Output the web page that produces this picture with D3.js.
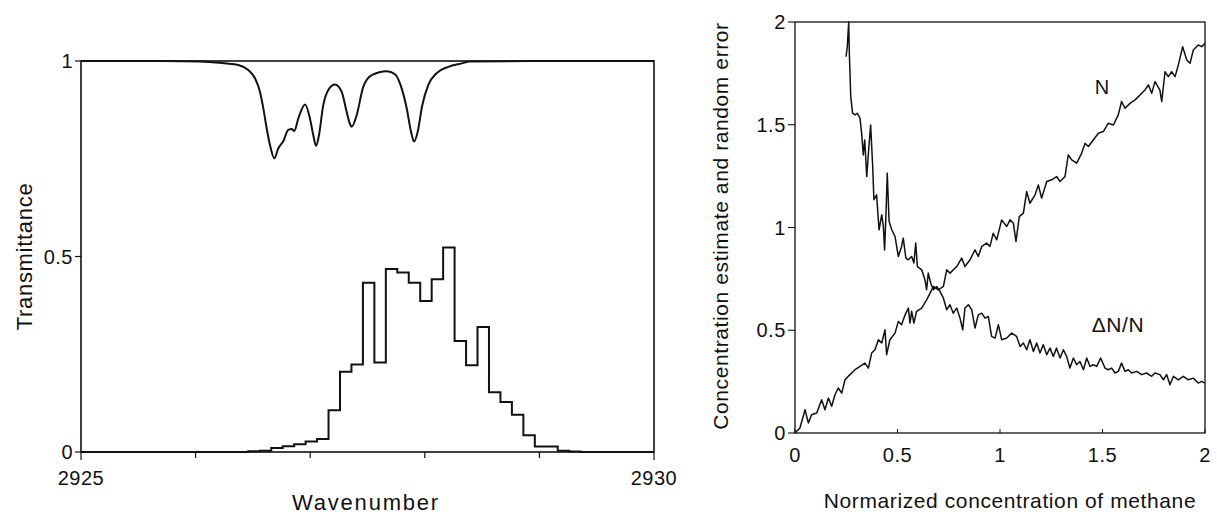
<!DOCTYPE html>
<html>
  <head>
    <meta charset="utf-8">
    <title>methane spectrum and concentration error</title>
    <script src="https://d3js.org/d3.v7.min.js"></script>
    <style>
      body { margin: 0; background: #fff; }
      svg text { font-family: "Liberation Sans", Arial, Helvetica, sans-serif; fill: #111; }
    </style>
  </head>
  <body>
  <svg id="chart" width="1217" height="522"></svg>
  <script>
    // ---- left panel data ----
    // absorption curve: [wavenumber, transmittance]
    var absorbWave = [2925.0, 2925.6, 2926.038, 2926.257, 2926.373, 2926.46, 2926.518, 2926.562, 2926.591,
      2926.62, 2926.649, 2926.687, 2926.722, 2926.765, 2926.809, 2926.839, 2926.861, 2926.896, 2926.955,
      2926.998, 2927.027, 2927.051, 2927.077, 2927.114, 2927.158, 2927.216, 2927.275, 2927.318, 2927.347,
      2927.362, 2927.406, 2927.463, 2927.537, 2927.668, 2927.74, 2927.798, 2927.842, 2927.88, 2927.906,
      2927.938, 2927.978, 2928.031, 2928.104, 2928.205, 2928.322, 2928.394, 2928.918, 2930.0];
    var absorbT = [1.0, 1.0, 0.999, 0.994, 0.99, 0.977, 0.956, 0.921, 0.879,
      0.828, 0.785, 0.751, 0.777, 0.795, 0.824, 0.826, 0.821, 0.853, 0.889,
      0.853, 0.81, 0.783, 0.811, 0.887, 0.926, 0.94, 0.921, 0.87, 0.839,
      0.832, 0.862, 0.934, 0.964, 0.974, 0.966, 0.93, 0.879, 0.819, 0.794,
      0.819, 0.887, 0.939, 0.969, 0.985, 0.994, 0.999, 1.0, 1.0];

    // histogram: bin left edges and levels
    var binEdges = [2925.0, 2926.46, 2926.56, 2926.66, 2926.76, 2926.86, 2926.96, 2927.06, 2927.16, 2927.26,
      2927.36, 2927.46, 2927.56, 2927.66, 2927.76, 2927.86, 2927.96, 2928.06, 2928.16, 2928.26,
      2928.36, 2928.46, 2928.56, 2928.66, 2928.76, 2928.86, 2928.96, 2929.06, 2929.16, 2929.26, 2929.36];
    var binValues = [0.0, 0.002, 0.003, 0.010, 0.015, 0.020, 0.027, 0.033, 0.107, 0.205,
      0.224, 0.433, 0.229, 0.468, 0.459, 0.433, 0.386, 0.442, 0.523, 0.284,
      0.222, 0.320, 0.153, 0.128, 0.095, 0.043, 0.014, 0.014, 0.003, 0.001, 0.0];

    var leftXTicks = [2925, 2926, 2927, 2928, 2929, 2930];
    var leftXLabels = [2925, 2930];
    var leftYTicks = [0, 0.5, 1];

    // ---- right panel data ----
    var nX = [0, 0.024, 0.049, 0.065, 0.081, 0.106, 0.13, 0.146, 0.163, 0.179, 0.195, 0.211, 0.228, 0.244,
      0.268, 0.293, 0.317, 0.341, 0.358, 0.374, 0.39, 0.407, 0.423, 0.439, 0.447, 0.463, 0.488, 0.504,
      0.52, 0.537, 0.553, 0.561, 0.569, 0.58, 0.593, 0.618, 0.642, 0.659, 0.675, 0.699, 0.724, 0.74,
      0.756, 0.789, 0.813, 0.829, 0.854, 0.878, 0.894, 0.911, 0.935, 0.951, 0.967, 0.984, 1.008, 1.033,
      1.049, 1.065, 1.078, 1.094, 1.114, 1.13, 1.146, 1.171, 1.187, 1.203, 1.228, 1.252, 1.276, 1.293,
      1.317, 1.333, 1.35, 1.374, 1.398, 1.415, 1.431, 1.455, 1.48, 1.504, 1.528, 1.553, 1.577, 1.593,
      1.61, 1.634, 1.659, 1.683, 1.707, 1.724, 1.74, 1.756, 1.78, 1.789, 1.805, 1.821, 1.837, 1.854,
      1.87, 1.891, 1.911, 1.927, 1.943, 1.967, 1.984, 2.0];
    var nY = [0, 0.024, 0.113, 0.049, 0.089, 0.097, 0.162, 0.113, 0.17, 0.13, 0.186, 0.219, 0.194, 0.259,
      0.284, 0.308, 0.324, 0.34, 0.316, 0.389, 0.405, 0.454, 0.438, 0.502, 0.381, 0.454, 0.486, 0.543,
      0.527, 0.575, 0.608, 0.535, 0.592, 0.535, 0.592, 0.608, 0.648, 0.681, 0.713, 0.697, 0.713, 0.794,
      0.778, 0.81, 0.851, 0.81, 0.843, 0.891, 0.859, 0.908, 0.924, 0.908, 0.972, 0.94, 1.037, 1.005,
      1.037, 1.021, 0.932, 1.053, 1.07, 1.175, 1.118, 1.159, 1.207, 1.143, 1.224, 1.232, 1.248, 1.224,
      1.248, 1.353, 1.329, 1.313, 1.361, 1.41, 1.394, 1.426, 1.459, 1.467, 1.507, 1.499, 1.548, 1.613,
      1.58, 1.604, 1.621, 1.645, 1.669, 1.694, 1.653, 1.71, 1.669, 1.613, 1.758, 1.734, 1.758, 1.734,
      1.791, 1.88, 1.815, 1.799, 1.864, 1.888, 1.88, 1.896];

    var errX = [0.249, 0.255, 0.262, 0.265, 0.272, 0.281, 0.293, 0.304, 0.317, 0.325, 0.333, 0.34, 0.35,
      0.358, 0.369, 0.379, 0.385, 0.398, 0.41, 0.423, 0.431, 0.437, 0.444, 0.45, 0.459, 0.472, 0.488,
      0.504, 0.52, 0.528, 0.541, 0.553, 0.569, 0.58, 0.589, 0.597, 0.618, 0.634, 0.642, 0.65, 0.662,
      0.675, 0.691, 0.707, 0.724, 0.74, 0.756, 0.772, 0.789, 0.805, 0.818, 0.829, 0.846, 0.862, 0.878,
      0.894, 0.911, 0.927, 0.943, 0.959, 0.976, 0.992, 1.008, 1.033, 1.057, 1.081, 1.098, 1.114, 1.13,
      1.146, 1.163, 1.179, 1.195, 1.211, 1.228, 1.244, 1.26, 1.276, 1.293, 1.309, 1.325, 1.341, 1.358,
      1.374, 1.39, 1.407, 1.423, 1.439, 1.455, 1.472, 1.491, 1.512, 1.528, 1.545, 1.561, 1.577, 1.593,
      1.61, 1.626, 1.642, 1.667, 1.691, 1.715, 1.74, 1.756, 1.78, 1.797, 1.813, 1.829, 1.846, 1.87,
      1.894, 1.919, 1.943, 1.967, 1.984, 2.0];
    var errY = [1.831, 1.88, 2.0, 1.848, 1.637, 1.556, 1.548, 1.556, 1.532, 1.459, 1.353, 1.426, 1.248,
      1.361, 1.499, 1.297, 1.135, 1.159, 0.989, 1.062, 1.005, 0.891, 1.07, 1.264, 1.029, 0.989, 0.956,
      0.859, 0.908, 0.948, 0.851, 0.843, 0.859, 0.827, 0.924, 0.81, 0.794, 0.746, 0.697, 0.778, 0.729,
      0.697, 0.713, 0.689, 0.656, 0.6, 0.624, 0.583, 0.608, 0.559, 0.502, 0.608, 0.624, 0.6, 0.511,
      0.575, 0.583, 0.559, 0.567, 0.47, 0.462, 0.527, 0.454, 0.462, 0.486, 0.47, 0.421, 0.438, 0.405,
      0.454, 0.397, 0.438, 0.389, 0.43, 0.381, 0.413, 0.373, 0.413, 0.365, 0.405, 0.373, 0.316, 0.365,
      0.332, 0.348, 0.308, 0.365, 0.324, 0.332, 0.324, 0.365, 0.316, 0.308, 0.316, 0.292, 0.3, 0.34,
      0.3, 0.308, 0.292, 0.3, 0.284, 0.292, 0.276, 0.292, 0.284, 0.259, 0.284, 0.235, 0.276, 0.259,
      0.276, 0.259, 0.267, 0.243, 0.251, 0.243];

    var rightTicks = [0, 0.5, 1, 1.5, 2];

    var svg = d3.select("#chart");

    // ================= left panel =================
    var L = { left: 81, right: 654, top: 61, bottom: 452 };
    var x1 = d3.scaleLinear().domain([2925, 2930]).range([L.left, L.right]);
    var y1 = d3.scaleLinear().domain([0, 1]).range([L.bottom, L.top]);

    var g1 = svg.append("g");

    // frame
    g1.append("rect")
      .attr("x", L.left).attr("y", L.top)
      .attr("width", L.right - L.left).attr("height", L.bottom - L.top)
      .attr("fill", "none").attr("stroke", "#111").attr("stroke-width", 1.6);

    // x ticks (outward)
    g1.selectAll(".xt").data(leftXTicks).enter().append("line")
      .attr("x1", function(d) { return x1(d); }).attr("x2", function(d) { return x1(d); })
      .attr("y1", L.bottom).attr("y2", function(d) { return leftXLabels.indexOf(d) >= 0 ? L.bottom + 8 : L.bottom + 6; })
      .attr("stroke", "#111").attr("stroke-width", 1.2);
    g1.selectAll(".xl").data(leftXLabels).enter().append("text")
      .attr("x", function(d) { return x1(d); }).attr("y", 485)
      .attr("text-anchor", "middle").attr("font-size", 20).attr("letter-spacing", 0.5)
      .text(function(d) { return d; });

    // y ticks
    g1.selectAll(".yt").data(leftYTicks).enter().append("line")
      .attr("x1", L.left - 6).attr("x2", L.left)
      .attr("y1", function(d) { return y1(d); }).attr("y2", function(d) { return y1(d); })
      .attr("stroke", "#111").attr("stroke-width", 1.2);
    g1.selectAll(".yl").data(leftYTicks).enter().append("text")
      .attr("x", L.left - 8).attr("y", function(d) { return y1(d) + 7; })
      .attr("text-anchor", "end").attr("font-size", 20).attr("letter-spacing", 0.5)
      .text(function(d) { return d; });

    // axis titles
    g1.append("text")
      .attr("x", 366).attr("y", 510)
      .attr("text-anchor", "middle").attr("font-size", 22).attr("letter-spacing", 1.8)
      .text("Wavenumber");
    g1.append("text")
      .attr("transform", "translate(32," + ((L.top + L.bottom) / 2) + ") rotate(-90)")
      .attr("text-anchor", "middle").attr("font-size", 22).attr("letter-spacing", 0.7)
      .text("Transmittance");

    // absorption curve
    var absorbData = absorbWave.map(function(w, i) { return [w, absorbT[i]]; });
    g1.append("path")
      .datum(absorbData)
      .attr("fill", "none").attr("stroke", "#111").attr("stroke-width", 2)
      .attr("d", d3.line()
        .x(function(d) { return x1(d[0]); })
        .y(function(d) { return y1(d[1]); })
        .curve(d3.curveMonotoneX));

    // histogram as step line
    var stepData = binEdges.map(function(w, i) { return [w, binValues[i]]; });
    stepData.push([2930, 0]);
    g1.append("path")
      .datum(stepData)
      .attr("fill", "none").attr("stroke", "#111").attr("stroke-width", 2)
      .attr("d", d3.line()
        .x(function(d) { return x1(d[0]); })
        .y(function(d) { return y1(d[1]); })
        .curve(d3.curveStepAfter));

    // ================= right panel =================
    var R = { left: 795, right: 1205, top: 22, bottom: 433 };
    var x2 = d3.scaleLinear().domain([0, 2]).range([R.left, R.right]);
    var y2 = d3.scaleLinear().domain([0, 2]).range([R.bottom, R.top]);

    var g2 = svg.append("g");

    g2.append("rect")
      .attr("x", R.left).attr("y", R.top)
      .attr("width", R.right - R.left).attr("height", R.bottom - R.top)
      .attr("fill", "none").attr("stroke", "#111").attr("stroke-width", 1.3);

    // x ticks (inward)
    g2.selectAll(".xt").data(rightTicks).enter().append("line")
      .attr("x1", function(d) { return x2(d); }).attr("x2", function(d) { return x2(d); })
      .attr("y1", R.bottom).attr("y2", R.bottom - 4)
      .attr("stroke", "#111").attr("stroke-width", 1);
    g2.selectAll(".xl").data(rightTicks).enter().append("text")
      .attr("x", function(d) { return x2(d); }).attr("y", 462)
      .attr("text-anchor", "middle").attr("font-size", 20).attr("letter-spacing", 0.6)
      .text(function(d) { return d; });

    // y ticks (outward)
    g2.selectAll(".yt").data(rightTicks).enter().append("line")
      .attr("x1", R.left - 7).attr("x2", R.left)
      .attr("y1", function(d) { return y2(d); }).attr("y2", function(d) { return y2(d); })
      .attr("stroke", "#111").attr("stroke-width", 1.1);
    g2.selectAll(".yl").data(rightTicks).enter().append("text")
      .attr("x", R.left - 9).attr("y", function(d) { return y2(d) + 7; })
      .attr("text-anchor", "end").attr("font-size", 20).attr("letter-spacing", 0.6)
      .text(function(d) { return d; });

    g2.append("text")
      .attr("x", 1010).attr("y", 508)
      .attr("text-anchor", "middle").attr("font-size", 21).attr("letter-spacing", 0.6)
      .text("Normarized concentration of methane");
    g2.append("text")
      .attr("transform", "translate(728,226) rotate(-90)")
      .attr("text-anchor", "middle").attr("font-size", 21).attr("letter-spacing", 0.6)
      .text("Concentration estimate and random error");

    var lineR = d3.line()
      .x(function(d) { return x2(d[0]); })
      .y(function(d) { return y2(d[1]); });

    g2.append("path")
      .datum(nX.map(function(v, i) { return [v, nY[i]]; }))
      .attr("fill", "none").attr("stroke", "#111").attr("stroke-width", 1.5)
      .attr("stroke-linejoin", "round")
      .attr("d", lineR);

    g2.append("path")
      .datum(errX.map(function(v, i) { return [v, errY[i]]; }))
      .attr("fill", "none").attr("stroke", "#111").attr("stroke-width", 1.5)
      .attr("stroke-linejoin", "round")
      .attr("d", lineR);

    // series labels
    g2.append("text")
      .attr("x", 1102).attr("y", 94)
      .attr("text-anchor", "middle").attr("font-size", 20)
      .text("N");
    g2.append("text")
      .attr("x", 1118).attr("y", 332)
      .attr("text-anchor", "middle").attr("font-size", 21).attr("letter-spacing", 0.6)
      .text("ΔN/N");
  </script>
  </body>
</html>
